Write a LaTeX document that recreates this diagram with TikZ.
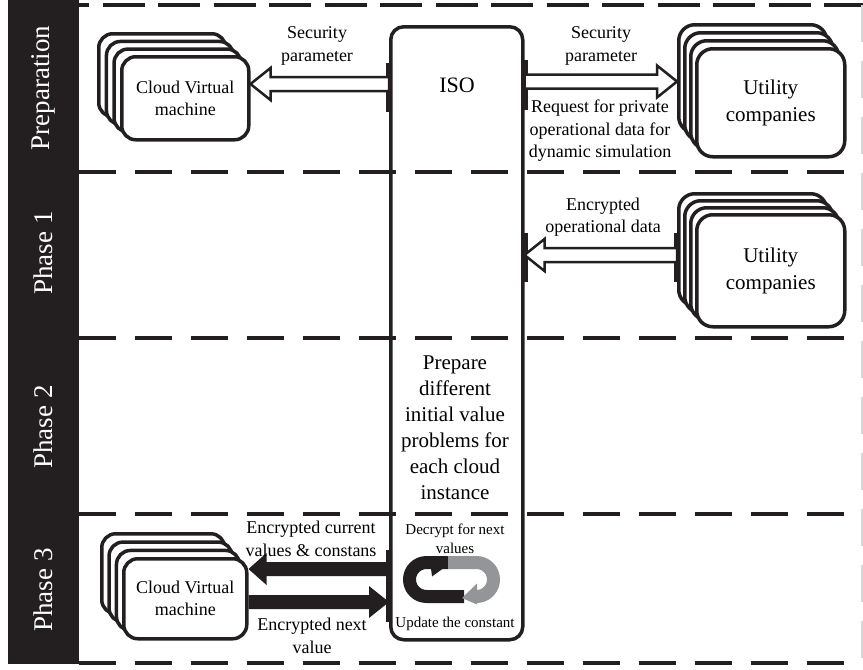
\documentclass[tikz,border=0pt]{standalone}
\usepackage{fontspec}
\setmainfont{Liberation Serif}
\usetikzlibrary{calc}
\definecolor{ink}{HTML}{231F20}
\definecolor{loopgray}{HTML}{939598}

% Horizontal block arrow from #2 to #3; #4 is the signed head length
% (positive: pointing right, negative: pointing left).
\newcommand\blockarrow[4][]{%
  \path[#1] let \p1=(#2), \p2=(#3), \p3=($(\x2,\y2)-(#4,0)$) in
    (\x1,\y1+7pt) -- (\x3,\y1+7pt) -- (\x3,\y1+16pt) -- (\x2,\y1)
    -- (\x3,\y1-16pt) -- (\x3,\y1-7pt) -- (\x1,\y1-7pt) -- cycle;}

\tikzset{
  lane/.style={draw=ink, line width=4pt, dash pattern=on 37pt off 19pt},
  phase/.style={text=white, rotate=90, font=\fontsize{27}{30}\selectfont},
  isobox/.style={draw=ink, line width=3.5pt, rounded corners=13pt,
    minimum width=132pt, minimum height=613pt, inner sep=0pt, anchor=north west},
  card/.style={draw=ink, fill=white, line width=3.5pt, inner sep=0pt,
    anchor=north west, align=center},
  vmcard/.style={card, rounded corners=14pt, minimum width=127pt, minimum height=83pt,
    font=\fontsize{18}{22}\selectfont},
  ucard/.style={card, rounded corners=16pt, minimum width=148pt, minimum height=108pt,
    font=\fontsize{21}{27}\selectfont},
  lbl/.style={align=center, inner sep=0pt, font=\fontsize{18}{22.5}\selectfont},
  small/.style={align=center, inner sep=0pt, font=\fontsize{15}{19}\selectfont},
  big/.style={align=center, inner sep=0pt, font=\fontsize{21}{26}\selectfont},
  hollow/.style={draw=ink, fill=white, line width=2.5pt, line join=miter},
  solid/.style={fill=ink},
  glue/.style={draw=ink, line width=6.5pt}
}

\begin{document}
\begin{tikzpicture}[x=1pt, y=-1pt, line join=round]
\useasboundingbox (0,0) rectangle (863,670);
\fill[white] (0,0) rectangle (863,670);

% phase bar
\fill[ink] (8,0) rectangle (79,664);
\node[phase] (ph0) at (43.5,88) {Preparation};
\node[phase] (ph1) at (43.5,253) {Phase 1};
\node[phase] (ph2) at (43.5,427) {Phase 2};
\node[phase] (ph3) at (43.5,590) {Phase 3};

% lane separators
\draw[lane, dash pattern=on 42pt off 13.5pt, dash phase=32pt] (79,5) -- (863,5);
\foreach \yy in {172,338,514,663} \draw[lane] (79,\yy) -- (863,\yy);
\draw[ink!18, line width=2pt, dash pattern=on 37pt off 19pt] (862,5) -- (862,663);

% ISO column
\node[isobox] (iso) at (389,25) {};
\node[inner sep=0pt, font=\fontsize{22}{26}\selectfont] (isolbl) at (457,85) {ISO};
\node[big] (prep) at (455,428) {Prepare\\different\\initial value\\problems for\\each cloud\\instance};

% Preparation: cloud virtual machines
\node[vmcard] (cvm1d) at (97,32) {};
\node[vmcard] at (104.7,39.7) {};
\node[vmcard] at (112.3,47.3) {};
\node[vmcard] (cvm1) at (120,55) {Cloud Virtual\\machine};

% Preparation: utility companies
\node[ucard] (uc1d) at (677,23) {};
\node[ucard] at (683,31) {};
\node[ucard] at (689,39) {};
\node[ucard] (uc1) at (695,47) {Utility\\companies};

% Phase 1: utility companies
\node[ucard, minimum height=112pt] (uc2d) at (677,192) {};
\node[ucard, minimum height=112pt] at (683,199) {};
\node[ucard, minimum height=112pt] at (689,206) {};
\node[ucard, minimum height=112pt] (uc2) at (695,213) {Utility\\companies};

% Phase 3: cloud virtual machines
\node[vmcard, minimum width=123pt, minimum height=80pt] (cvm2d) at (100,532) {};
\node[vmcard, minimum width=123pt, minimum height=80pt] at (107.3,540.3) {};
\node[vmcard, minimum width=123pt, minimum height=80pt] at (114.7,548.7) {};
\node[vmcard, minimum width=123pt, minimum height=80pt] (cvm2) at (122,557) {Cloud Virtual\\machine};

% arrow rows
\coordinate (yA) at (0,84);
\coordinate (yB) at (0,81.5);
\coordinate (yC) at (0,255);
\coordinate (yD) at (0,569);
\coordinate (yE) at (0,602);

% connection marks on the box edges
\draw[glue] ($(iso.north west)+(0,38)$) -- ($(iso.north west)+(0,87)$);
\draw[glue] ($(iso.north east)+(0,35)$) -- ($(iso.north east)+(0,85)$);
\draw[glue] ($(iso.north east)+(0,208)$) -- ($(iso.north east)+(0,257)$);
\draw[glue] ($(iso.north west)+(0,525)$) -- ($(iso.north west)+(0,597)$);
\draw[glue] ($(uc2d.north west)+(0,41)$) -- ($(uc2d.north west)+(0,90)$);

% arrows
\blockarrow[hollow]{iso.west |- yA}{cvm1.east |- yA}{-20}
\blockarrow[hollow]{iso.east |- yB}{uc1d.west |- yB}{20}
\blockarrow[hollow]{uc2d.west |- yC}{iso.east |- yC}{-20}
\blockarrow[solid]{iso.west |- yD}{cvm2.east |- yD}{-18}
\blockarrow[solid]{cvm2.east |- yE}{iso.west |- yE}{20}

% arrow labels
\node[lbl] (l1) at (317,46) {Security\\parameter};
\node[lbl] (l2) at (601,46) {Security\\parameter};
\node[lbl] (l3) at (600,131) {Request for private\\operational data for\\dynamic simulation};
\node[lbl] (l4) at (603,217) {Encrypted\\operational data};
\node[lbl] (l5) at (311,539) {Encrypted current\\values \& constans};
\node[lbl] (l6) at (312,636) {Encrypted next\\value};

% update loop inside the ISO box
\node[small] (dec) at (455,539) {Decrypt for next\\values};
\node[small] (upd) at (455,624) {Update the constant};
\begin{scope}[shift={(452,579.5)}]
  \draw[ink, line width=13pt] (12,17) -- (-25.5,17)
    arc[start angle=90, end angle=270, radius=17] -- (-4,-17);
  \fill[ink] (-21,-11) -- (-9,-11) -- (-20,-3) -- cycle;
  \draw[loopgray, line width=13pt] (-4,-17) -- (24.5,-17)
    arc[start angle=-90, end angle=90, radius=17] -- (22,17);
  \fill[loopgray] (25,4) -- (25,25) -- (10,18.5) -- cycle;
\end{scope}
\end{tikzpicture}
\end{document}
